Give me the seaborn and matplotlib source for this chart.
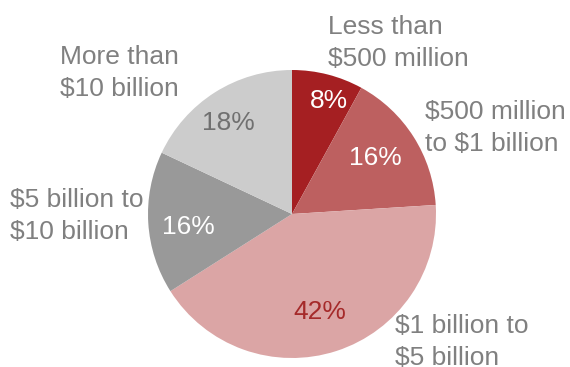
import matplotlib
matplotlib.use("Agg")
import matplotlib.pyplot as plt
import seaborn as sns

categories = ["Less than\n$500 million", "$500 million\nto $1 billion", "$1 billion to\n$5 billion",
              "$5 billion to\n$10 billion", "More than\n$10 billion"]
shares = [8, 16, 42, 16, 18]
slice_colors = ["#A51F22", "#BD6060", "#DBA5A5", "#999999", "#CCCCCC"]
pct_colors = ["white", "white", "#A52A2A", "white", "#707070"]

sns.set_theme(style="white")
plt.rcParams['font.family'] = ['Liberation Sans', 'DejaVu Sans']

fig = plt.figure(figsize=(5.7, 3.67), dpi=100)
ax = fig.add_axes([0, 0, 1, 1])

# pie drawn in pixel-like data coords so it lines up with the layout
cx, cy, r = 292, 367 - 214, 144
wedges, texts, autotexts = ax.pie(
    shares, colors=slice_colors, startangle=90, counterclock=False,
    center=(cx, cy), radius=r, autopct=lambda p: f"{p:.0f}%", pctdistance=0.75,
    wedgeprops=dict(linewidth=0), textprops=dict(fontsize=19))

# nudge percent labels to where the original has them
pct_pos = [(329, 367 - 101), (375, 367 - 158), (320, 367 - 312), (188, 367 - 227), (228, 367 - 123)]
for t, c, p in zip(autotexts, pct_colors, pct_pos):
    t.set_color(c)
    t.set_position(p)

# hand-placed outside labels (left aligned, like the original)
label_pos = [(328, 367 - 43), (425, 367 - 128), (395, 367 - 342), (10, 367 - 216), (60, 367 - 73)]
for lab, (x, y) in zip(categories, label_pos):
    ax.text(x, y, lab, ha="left", va="center", fontsize=19, color="#808080", linespacing=1.4)

ax.set_xlim(0, 570)
ax.set_ylim(0, 367)
ax.set_aspect("equal")
ax.axis("off")

fig.savefig("out.png", dpi=100)
